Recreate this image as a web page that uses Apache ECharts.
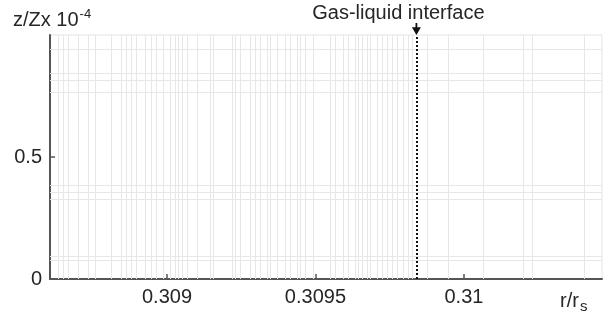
<!DOCTYPE html>
<html>
<head>
<meta charset="utf-8">
<script src="https://cdn.jsdelivr.net/npm/echarts@6/dist/echarts.min.js"></script>
<style>
  html, body { margin: 0; padding: 0; background: #fff; }
  #main { width: 609px; height: 313px; }
</style>
</head>
<body>
<div id="main"></div>
<script>
// axis limits (r/rs and z/Zx in units of 1e-4)
var xRange = [0.308606, 0.310465];
var yRange = [0, 1];
var xTicks = [0.309, 0.3095, 0.31];
var yTicks = [0, 0.5];

// radial mesh node positions
var meshR = [
  0.308633, 0.308650, 0.308667, 0.308700, 0.308734, 0.308758, 0.308811, 0.308845,
  0.308862, 0.308879, 0.308896, 0.308926, 0.308946, 0.308963, 0.308987, 0.309010,
  0.309027, 0.309037, 0.309051, 0.309067, 0.309101, 0.309145, 0.309155, 0.309219,
  0.309229, 0.309246, 0.309279, 0.309296, 0.309313, 0.309337, 0.309347, 0.309370,
  0.309397, 0.309414, 0.309438, 0.309448, 0.309465, 0.309492, 0.309549, 0.309566,
  0.309593, 0.309609, 0.309633, 0.309643, 0.309657, 0.309673, 0.309684, 0.309707,
  0.309724, 0.309741, 0.309758, 0.309774, 0.309795, 0.309811, 0.309825,
  0.309875, 0.309946, 0.310064, 0.310199, 0.310229, 0.310404
];
// axial mesh node positions
var meshZ = [0.078, 0.094, 0.328, 0.357, 0.385, 0.766, 0.816, 0.844, 0.943];

// gas-liquid interface position
var interfaceR = 0.30984;

var myChart = echarts.init(document.getElementById('main'));

var font = '"Liberation Sans", Arial, sans-serif';

var meshLines = [];
meshR.forEach(function (v) {
  meshLines.push([{ coord: [v, yRange[0]] }, { coord: [v, yRange[1]] }]);
});
meshZ.forEach(function (v) {
  meshLines.push([{ coord: [xRange[0], v] }, { coord: [xRange[1], v] }]);
});

var option = {
  animation: false,
  backgroundColor: '#fff',
  grid: {
    left: 50, right: 7, top: 35, bottom: 34,
    show: true, borderColor: '#e3e3e3', borderWidth: 1
  },
  title: [
    {
      text: '{a|z/Zx 10}{s|-4}',
      left: 8, top: 3,
      textStyle: {
        fontWeight: 'normal',
        rich: {
          a: { fontFamily: font, fontSize: 20, fontWeight: 'normal', color: '#262626', verticalAlign: 'bottom' },
          s: { fontFamily: font, fontSize: 13, fontWeight: 'normal', color: '#262626', verticalAlign: 'top', padding: [0, 0, 9, 1] }
        }
      }
    },
    {
      text: '{a|r/r}{s|s}',
      left: 555, top: 284,
      textStyle: {
        fontWeight: 'normal',
        rich: {
          a: { fontFamily: font, fontSize: 20, fontWeight: 'normal', color: '#262626' },
          s: { fontFamily: font, fontSize: 15, fontWeight: 'normal', color: '#262626', padding: [10, 0, 0, 1] }
        }
      }
    }
  ],
  xAxis: {
    type: 'value',
    min: xRange[0], max: xRange[1],
    axisLine: { show: true, lineStyle: { color: '#555', width: 2 } },
    axisTick: { show: true, inside: true, length: 5, customValues: xTicks, lineStyle: { color: '#555', width: 1.5 } },
    axisLabel: {
      customValues: xTicks, margin: 8,
      fontFamily: font, fontSize: 20, color: '#262626',
      formatter: function (v) { return String(+v.toFixed(4)); }
    },
    splitLine: { show: false }
  },
  yAxis: {
    type: 'value',
    min: yRange[0], max: yRange[1],
    axisLine: { show: true, lineStyle: { color: '#555', width: 2 } },
    axisTick: { show: true, inside: true, length: 5, customValues: yTicks, lineStyle: { color: '#555', width: 1.5 } },
    axisLabel: {
      customValues: yTicks, margin: 8,
      fontFamily: font, fontSize: 20, color: '#262626'
    },
    splitLine: { show: false }
  },
  series: [
    {
      type: 'line',
      data: [],
      silent: true,
      markLine: {
        silent: true,
        symbol: ['none', 'none'],
        label: { show: false },
        lineStyle: { color: '#e7e7e7', width: 1, type: 'solid' },
        data: meshLines
      }
    },
    {
      type: 'line',
      data: [],
      silent: true,
      markLine: {
        silent: true,
        symbol: ['none', 'none'],
        label: { show: false },
        lineStyle: { color: '#111', width: 2, type: [2, 2] },
        data: [[{ coord: [interfaceR, yRange[0]] }, { coord: [interfaceR, yRange[1]] }]]
      },
      markPoint: {
        silent: true,
        symbol: 'path://M4,0 L6,0 L6,5 L10,5 L5,14 L0,5 L4,5 Z',
        symbolSize: [9, 12],
        symbolOffset: [0, -6],
        itemStyle: { color: '#111' },
        label: {
          show: true, position: 'top', distance: 0, offset: [-18, 0],
          formatter: 'Gas-liquid interface',
          fontFamily: font, fontSize: 20, color: '#262626'
        },
        data: [{ coord: [interfaceR, yRange[1]] }]
      }
    }
  ]
};

myChart.setOption(option);
</script>
</body>
</html>
